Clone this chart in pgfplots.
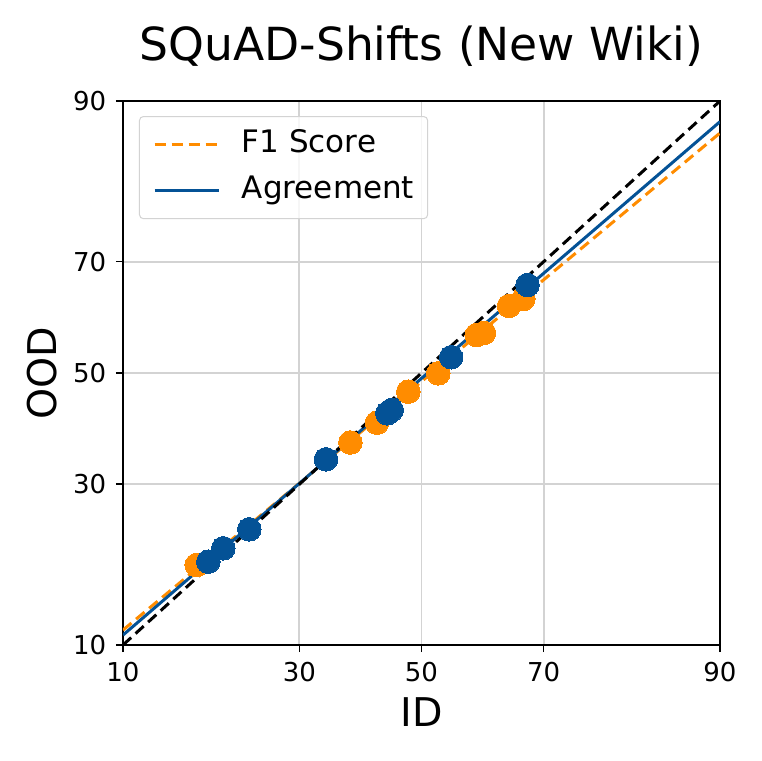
\documentclass[border=0pt]{standalone}
\usepackage{fontspec}
\setmainfont{DejaVu Sans}
\usepackage{pgfplots}
\pgfplotsset{compat=1.18}
\definecolor{myorange}{RGB}{255,140,0}
\definecolor{myblue}{RGB}{4,82,150}
\definecolor{gridgray}{RGB}{211,211,211}
% Axes are on a probit scale: coordinates below are probit(percent/100)
\pgfplotstableread{
x y
-0.9652 -0.9046
-0.3053 -0.3275
-0.1911 -0.2346
-0.0567 -0.0881
0.0721 -0.0014
0.2370 0.1790
0.2683 0.1885
0.3757 0.3157
0.4371 0.3487
}\fone
\pgfplotstableread{
x y
-0.9153 -0.8891
-0.8510 -0.8260
-0.7393 -0.7364
-0.4100 -0.4066
-0.1468 -0.1899
-0.1279 -0.1743
0.1275 0.0744
0.4551 0.4146
}\agree
\begin{document}
\begin{tikzpicture}
\useasboundingbox (0,0) rectangle (380.5pt,380.5pt);
\begin{axis}[
  at={(61.5pt,58pt)}, anchor=south west,
  scale only axis, width=298.5pt, height=272pt,
  xmin=-1.28155, xmax=1.28155, ymin=-1.28155, ymax=1.28155,
  xtick={-1.28155,-0.52440,0,0.52440,1.28155}, xticklabels={10,30,50,70,90},
  ytick={-1.28155,-0.52440,0,0.52440,1.28155}, yticklabels={10,30,50,70,90},
  grid=major, major grid style={gridgray, line width=0.9pt},
  axis line style={line width=0.8pt},
  tick align=outside, major tick length=3.5pt, tick style={black, line width=0.8pt},
  xtick pos=left, ytick pos=left,
  /pgf/number format/assume math mode=true,
  ticklabel style={font=\fontsize{13}{15}\selectfont},
  xticklabel style={inner sep=0pt, yshift=-4.85pt},
  yticklabel style={inner sep=0pt, xshift=-4.65pt},
  title={SQuAD-Shifts (New Wiki)},
  title style={at={(0.5,1.05147)}, anchor=base, font=\fontsize{22.8}{27}\selectfont},
  xlabel={ID}, ylabel={OOD},
  xlabel style={at={(0.5,-0.15018)}, anchor=base, font=\fontsize{19.8}{23}\selectfont},
  ylabel style={at={(-0.11122,0.5)}, anchor=base, rotate=0, font=\fontsize{19.8}{23}\selectfont},
  legend image code/.code={\draw[#1] (0pt,0pt) -- (32pt,0pt);},
  legend cell align=left,
  legend style={at={(0.0268,0.9724)}, anchor=north west,
    draw=gridgray, line width=0.5pt, rounded corners=2pt,
    fill=white, fill opacity=0.8, text opacity=1,
    inner xsep=6.8pt, inner ysep=6.9pt, row sep=9.3pt, column sep=0pt,
    font=\fontsize{15.5}{18}\selectfont,
    nodes={inner sep=0pt, text height=11pt, text depth=3pt},
    /tikz/every odd column/.append style={column sep=10.9pt}},
]
\addplot[only marks, color=myorange, mark=*, mark size=5.9pt, mark options={draw=myorange, fill=myorange, line width=0pt}, forget plot] table {\fone};
\addplot[only marks, color=myblue, mark=*, mark size=5.9pt, mark options={draw=myblue, fill=myblue, line width=0pt}, forget plot] table {\agree};
\addplot[myorange, line width=1.5pt, dash pattern=on 5.5pt off 3pt] coordinates {(-1.28155,-1.2111) (1.28155,1.1308)};
\addlegendentry{F1 Score}
\addplot[myblue, line width=1.5pt] coordinates {(-1.28155,-1.2347) (1.28155,1.1841)};
\addlegendentry{Agreement}
\addplot[black, line width=1.5pt, dash pattern=on 5.5pt off 3pt, forget plot] coordinates {(-1.28155,-1.28155) (1.28155,1.28155)};
\end{axis}
\end{tikzpicture}
\end{document}
